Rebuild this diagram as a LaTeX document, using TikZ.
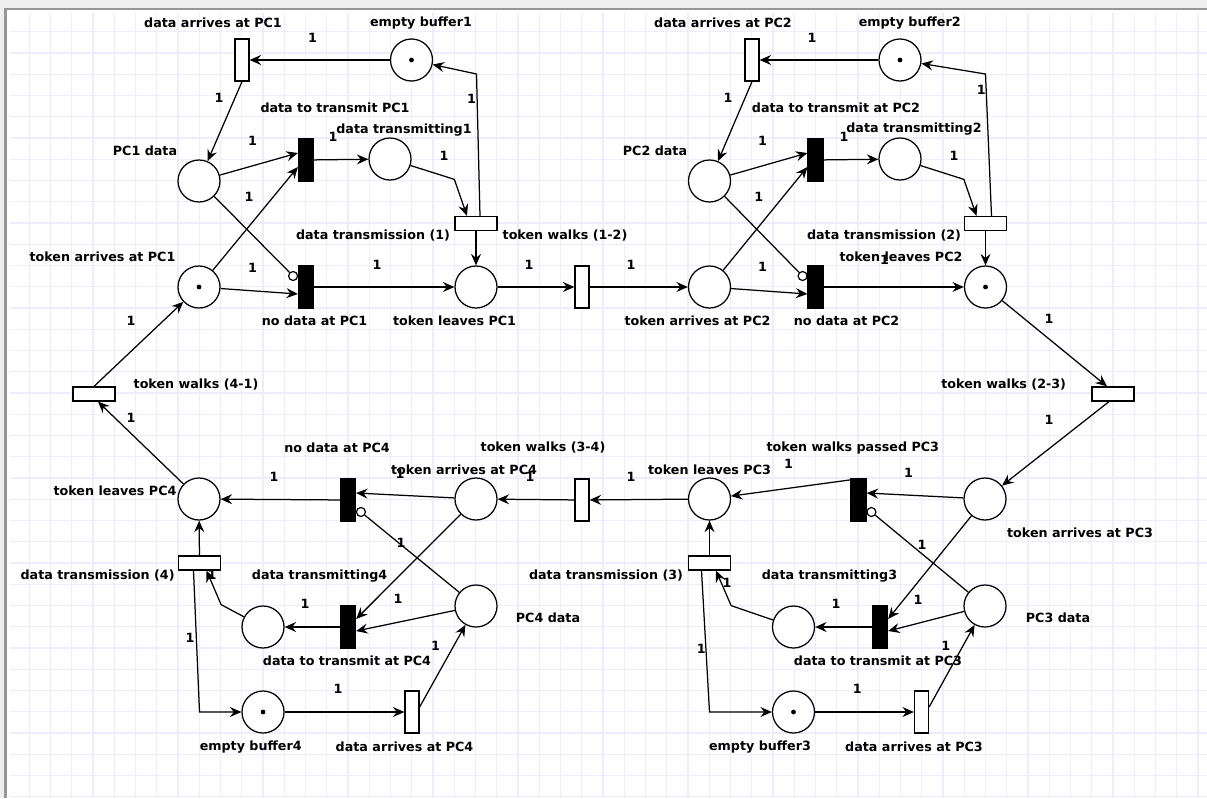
\documentclass[tikz,border=0pt]{standalone}
\usepackage{fontspec}
\setmainfont{DejaVu Sans}
\usetikzlibrary{arrows.meta,calc}
\definecolor{gridc}{RGB}{238,236,255}
\definecolor{bordd}{RGB}{150,150,150}
\definecolor{bordl}{RGB}{238,238,238}
\tikzset{
  place/.style={circle, draw, line width=1.25pt, minimum size=42pt, inner sep=0pt, fill=white},
  vtrans/.style={rectangle, draw, line width=1.25pt, minimum width=14pt, minimum height=42pt, inner sep=0pt, fill=white},
  htrans/.style={rectangle, draw, line width=1.25pt, minimum width=42pt, minimum height=14pt, inner sep=0pt, fill=white},
  btrans/.style={rectangle, draw, line width=1.25pt, fill=black, minimum width=15pt, minimum height=43pt, inner sep=0pt},
  inhc/.style={circle, draw, line width=1.2pt, fill=white, minimum size=9pt, inner sep=0pt},
  arc/.style={line width=1.25pt, -{Stealth[length=11.5pt,width=10pt,inset=4pt]}},
  inh/.style={line width=1.25pt},
  lbl/.style={font=\fontsize{12.7}{14}\bfseries\selectfont, inner sep=0pt, anchor=center},
  wt/.style={lbl},
}
\newcommand{\tok}[1]{\fill (#1) circle (2.4pt);}
\begin{document}
\begin{tikzpicture}[x=1pt,y=-1pt]
\useasboundingbox (0,0) rectangle (1207,798);
% grid
\foreach \k in {0,...,55} \draw[gridc, line width=1.3pt] ({29.3+21.25*\k},13) -- ({29.3+21.25*\k},798);
\foreach \k in {0,...,36} \draw[gridc, line width=1.3pt] (10,{31.7+21.25*\k}) -- (1207,{31.7+21.25*\k});
% window border
\fill[bordl] (0,0) rectangle (1207,8.3);
\fill[bordl] (0,0) rectangle (4,798);
\draw[bordd, line width=2pt] (4,9.3) -- (1207,9.3);
\draw[bordd, line width=2.5pt] (5.3,8.3) -- (5.3,798);

% ---------- places and transitions: PC1 ----------
\node[place] (eb1) at (411.5,60) {};
\node[vtrans] (dap1) at (242,60) {};
\node[place] (pc1d) at (199,181) {};
\node[btrans] (dt1) at (306,160) {};
\node[place] (dtr1) at (390,159) {};
\node[htrans] (dtx1) at (476,223.5) {};
\node[place] (ta1) at (199,287) {};
\node[btrans] (nd1) at (306,287) {};
\node[place] (tl1) at (476,287) {};
\node[vtrans] (tw12) at (582,287) {};
\node[htrans] (tw41) at (94,394) {};
% PC2
\node[place] (eb2) at (900,60) {};
\node[vtrans] (dap2) at (752,60) {};
\node[place] (pc2d) at (709.5,181) {};
\node[btrans] (dt2) at (815.5,160) {};
\node[place] (dtr2) at (900,159) {};
\node[htrans] (dtx2) at (985.5,223.5) {};
\node[place] (ta2) at (709.5,287) {};
\node[btrans] (nd2) at (815.5,287) {};
\node[place] (tl2) at (985.5,287) {};
\node[htrans] (tw23) at (1113,394) {};
% PC4
\node[place] (tl4) at (199,499) {};
\node[btrans] (nd4) at (348,500) {};
\node[place] (ta4) at (476,499) {};
\node[vtrans] (tw34) at (582,500) {};
\node[htrans] (dtx4) at (199.5,563) {};
\node[place] (dtr4) at (263,627) {};
\node[btrans] (dtt4) at (348,627) {};
\node[place] (pc4d) at (476,606) {};
\node[place] (eb4) at (263,712) {};
\node[vtrans] (dar4) at (412,712) {};
% PC3
\node[place] (tl3) at (709.5,499) {};
\node[btrans] (twp3) at (858.5,500) {};
\node[place] (ta3) at (985,499) {};
\node[htrans] (dtx3) at (709.5,563) {};
\node[place] (dtr3) at (793.5,627) {};
\node[btrans] (dtt3) at (880,627) {};
\node[place] (pc3d) at (985,606) {};
\node[place] (eb3) at (793.5,712) {};
\node[vtrans] (dar3) at (921.5,712) {};
% tokens
\tok{eb1} \tok{eb2} \tok{ta1} \tok{tl2} \tok{eb4} \tok{eb3}

% inhibitor circles
\node[inhc] (i1) at ([xshift=-4.8pt,yshift=11pt]nd1.west) {};
\node[inhc] (i2) at ([xshift=-4.8pt,yshift=11pt]nd2.west) {};
\node[inhc] (i4) at ([xshift=4.8pt,yshift=-12pt]nd4.east) {};
\node[inhc] (i3) at ([xshift=4.8pt,yshift=-12pt]twp3.east) {};

% ---------- arcs PC1 ----------
\draw[arc] (eb1) -- (dap1);
\draw[arc] (dap1.south) -- (pc1d);
\draw[arc] (pc1d) -- ([yshift=7pt]dt1.west);
\draw[arc] (ta1) -- ([yshift=-7pt]dt1.west);
\draw[arc] (dt1) -- (dtr1);
\draw[arc] (dtr1) -- ([yshift=36.5pt]dtx1.north west) -- ([xshift=-9pt]dtx1.north);
\draw[arc] ([xshift=4pt]dtx1.north) -- ($(dtx1.north |- eb1)+(0.5,14)$) -- (eb1);
\draw[arc] (dtx1) -- (tl1);
\draw[inh] (pc1d) -- (i1);
\draw[arc] (ta1) -- ([yshift=-7pt]nd1.west);
\draw[arc] (nd1) -- (tl1);
\draw[arc] (tl1) -- (tw12);
\draw[arc] (tw12) -- (ta2);
\draw[arc] (tw41.north) -- (ta1);
% arcs PC2
\draw[arc] (eb2) -- (dap2);
\draw[arc] (dap2.south) -- (pc2d);
\draw[arc] (pc2d) -- ([yshift=7pt]dt2.west);
\draw[arc] (ta2) -- ([yshift=-7pt]dt2.west);
\draw[arc] (dt2) -- (dtr2);
\draw[arc] (dtr2) -- ([yshift=36.5pt]dtx2.north west) -- ([xshift=-9pt]dtx2.north);
\draw[arc] ([xshift=6pt]dtx2.north) -- ($(dtx2.north |- eb2)+(0,14)$) -- (eb2);
\draw[arc] (dtx2) -- (tl2);
\draw[inh] (pc2d) -- (i2);
\draw[arc] (ta2) -- ([yshift=-7pt]nd2.west);
\draw[arc] (nd2) -- (tl2);
\draw[arc] (tl2) -- ([xshift=-6pt]tw23.north);
% arcs PC3
\draw[arc] ([xshift=-4pt]tw23.south) -- (ta3);
\draw[arc] (ta3) -- ([yshift=7pt]twp3.east);
\draw[arc] ([yshift=-2pt]twp3.north west) -- (tl3);
\draw[inh] (pc3d) -- (i3);
\draw[arc] (ta3) -- ([yshift=8pt]dtt3.east);
\draw[arc] (pc3d) -- ([yshift=-4pt]dtt3.east);
\draw[arc] (dtt3) -- (dtr3);
\draw[arc] (dtr3) -- ([yshift=-35pt]dtx3.south east) -- ([xshift=6.5pt]dtx3.south);
\draw[arc] (dtx3) -- (tl3);
\draw[arc] ([xshift=-8pt]dtx3.south) -- (dtx3.south |- eb3) -- (eb3);
\draw[arc] (eb3) -- (dar3);
\draw[arc] ([yshift=5pt]dar3.east) -- (pc3d);
\draw[arc] (tl3) -- (tw34);
% arcs PC4
\draw[arc] (tw34) -- (ta4);
\draw[arc] (ta4) -- ([yshift=7pt]nd4.east);
\draw[arc] (nd4) -- (tl4);
\draw[arc] (tl4) -- ([xshift=4pt]tw41.south);
\draw[inh] (pc4d) -- (i4);
\draw[arc] (ta4) -- ([yshift=8pt]dtt4.east);
\draw[arc] (pc4d) -- ([yshift=-4pt]dtt4.east);
\draw[arc] (dtt4) -- (dtr4);
\draw[arc] (dtr4) -- ([yshift=-34pt]dtx4.south east) -- ([xshift=7pt]dtx4.south);
\draw[arc] (dtx4) -- (tl4);
\draw[arc] ([xshift=-6pt]dtx4.south) -- (dtx4.south |- eb4) -- (eb4);
\draw[arc] (eb4) -- (dar4);
\draw[arc] ([yshift=5pt]dar4.east) -- (pc4d);

% ---------- names ----------
\node[lbl] (n1) at (213,23) {data arrives at PC1};
\node[lbl] (n2) at (421,23) {empty buffer1};
\node[lbl] (n3) at (335,108) {data to transmit PC1};
\node[lbl] (n4) at (404,130) {data transmitting1};
\node[lbl] (n5) at (145,151) {PC1 data};
\node[lbl] (n6) at (373,236) {data transmission (1)};
\node[lbl] (n7) at (565,236) {token walks (1-2)};
\node[lbl] (n8) at (102.5,257) {token arrives at PC1};
\node[lbl] (n9) at (314.6,321) {no data at PC1};
\node[lbl] (n10) at (454.6,321) {token leaves PC1};
\node[lbl] (n11) at (196,385) {token walks (4-1)};
\node[lbl] (n12) at (723,23) {data arrives at PC2};
\node[lbl] (n13) at (909.7,23) {empty buffer2};
\node[lbl] (n14) at (836,108) {data to transmit at PC2};
\node[lbl] (n15) at (914,129) {data transmitting2};
\node[lbl] (n16) at (655,151) {PC2 data};
\node[lbl] (n17) at (884,236) {data transmission (2)};
\node[lbl] (n18) at (901,257) {token leaves PC2};
\node[lbl] (n19) at (697.5,321) {token arrives at PC2};
\node[lbl] (n20) at (846.6,321) {no data at PC2};
\node[lbl] (n21) at (1003.7,385) {token walks (2-3)};
\node[lbl] (n22) at (337,448) {no data at PC4};
\node[lbl] (n23) at (543,448) {token walks (3-4)};
\node[lbl] (n24) at (464,470) {token arrives at PC4};
\node[lbl] (n25) at (115,491) {token leaves PC4};
\node[lbl] (n26) at (97.6,576) {data transmission (4)};
\node[lbl] (n27) at (319.6,576) {data transmitting4};
\node[lbl] (n28) at (548,618) {PC4 data};
\node[lbl] (n29) at (347,661) {data to transmit at PC4};
\node[lbl] (n30) at (250.7,747) {empty buffer4};
\node[lbl] (n31) at (404.5,747) {data arrives at PC4};
\node[lbl] (n32) at (852.8,448) {token walks passed PC3};
\node[lbl] (n33) at (709.5,470) {token leaves PC3};
\node[lbl] (n34) at (1080,533) {token arrives at PC3};
\node[lbl] (n35) at (606,576) {data transmission (3)};
\node[lbl] (n36) at (829.5,576) {data transmitting3};
\node[lbl] (n37) at (1058,618) {PC3 data};
\node[lbl] (n38) at (878,661) {data to transmit at PC3};
\node[lbl] (n39) at (760,747) {empty buffer3};
\node[lbl] (n40) at (914,747) {data arrives at PC3};

% ---------- weights ----------
\foreach \p [count=\i] in {(312.5,38),(219,98),(252.6,141),(249,197),(333,137),(444,156),(471.5,99),(252.6,268),(377,265),(529,265),(631,265),(131,321),
  (812,38),(728,98),(762.6,141),(758.7,197),(844,137),(954,156),(981.3,90),(762.6,267),(884.5,260),(1049,319),
  (1049,420),(908.5,473),(788.5,464),(631,477),(530,477),(400,474),(274,477),(131,418),(401,543),(398,599),(305,604),(212,575),(190,638),(338,689),(435.5,646),
  (922,545),(918,600),(836,604),(727,583),(701.4,649),(857.4,689),(945.7,646)}
  \node[wt] (w\i) at \p {1};
\end{tikzpicture}
\end{document}
